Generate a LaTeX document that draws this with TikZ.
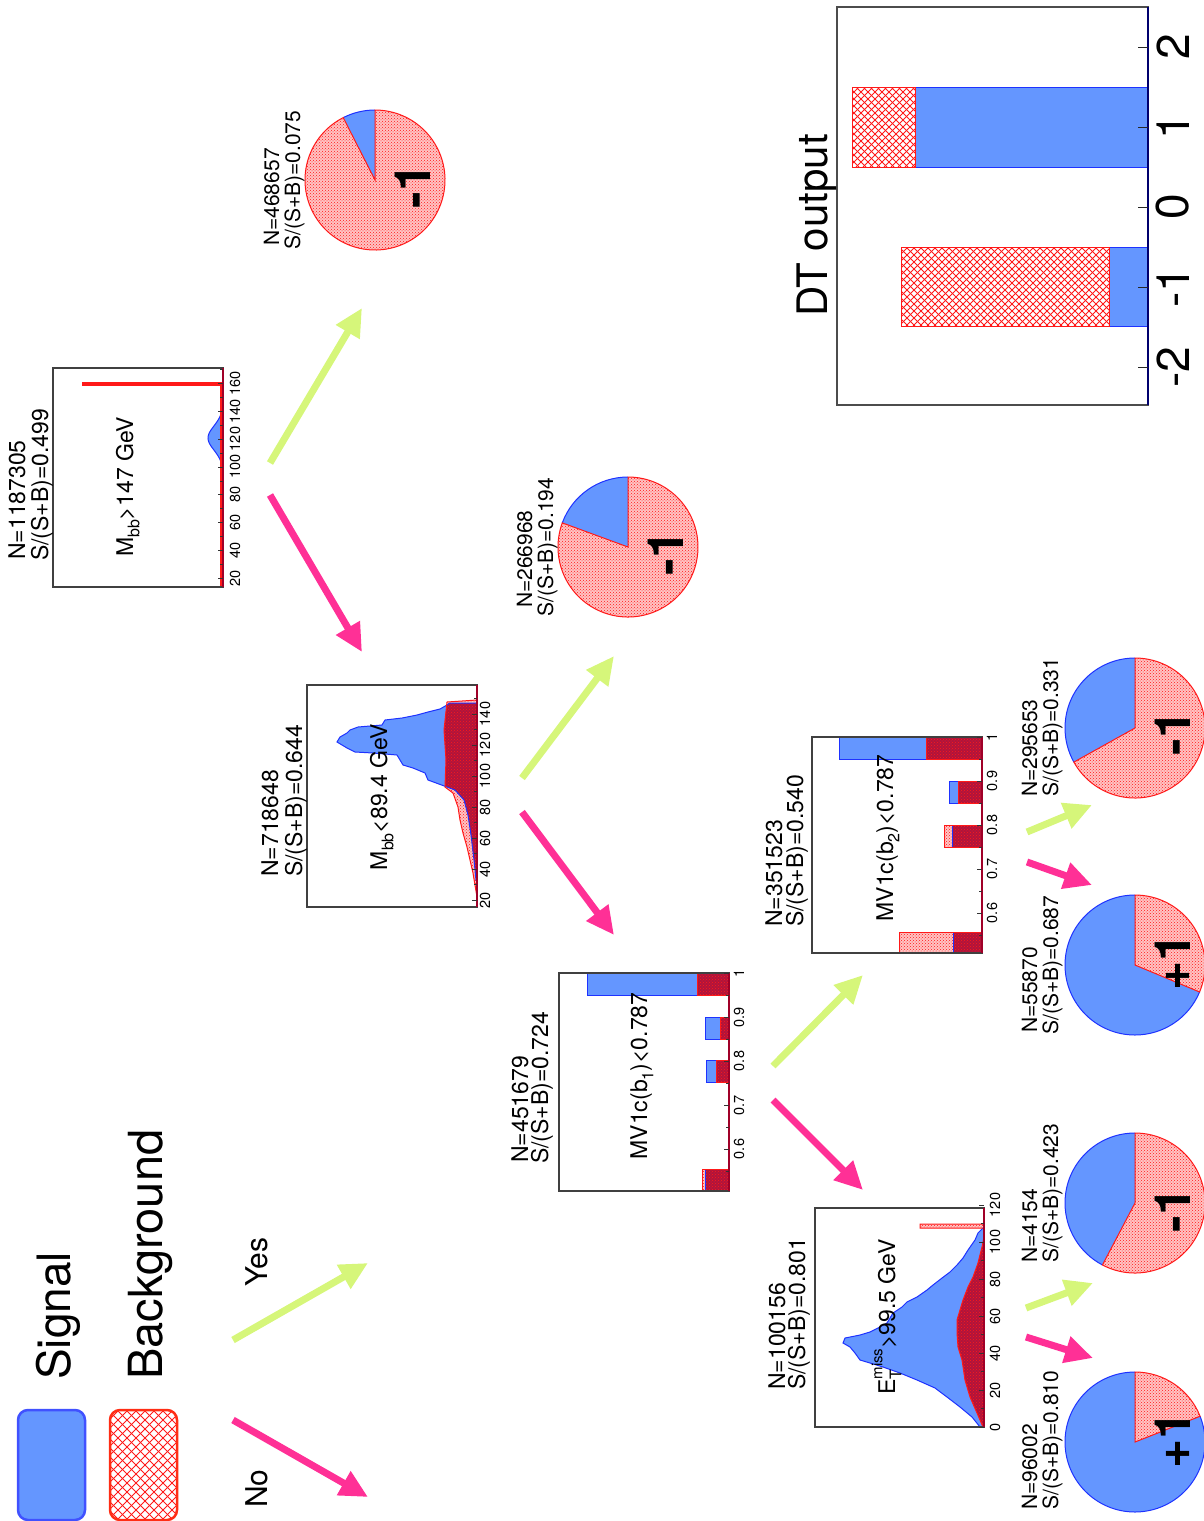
\documentclass[tikz,border=0pt]{standalone}
\usepackage{fontspec}
\setmainfont{TeX Gyre Heros}
\usetikzlibrary{arrows.meta,patterns,calc}

\definecolor{sigblue}{RGB}{100,150,255}
\definecolor{sigline}{RGB}{30,50,255}
\definecolor{bkgred}{RGB}{255,25,25}
\definecolor{bkgpink}{RGB}{255,195,195}
\definecolor{bkgdeep}{RGB}{175,20,60}
\definecolor{legred}{RGB}{255,45,20}
\definecolor{yesgreen}{RGB}{214,246,122}
\definecolor{nopink}{RGB}{255,48,150}
\definecolor{axisred}{RGB}{160,0,40}
\definecolor{axisnavy}{RGB}{0,0,110}

\newcommand\fsz[1]{\fontsize{#1}{#1}\selectfont}
\newcommand\lowtxt[1]{\raisebox{-0.28em}{\fsz{16}#1}}
\newcommand\hightxt[1]{\raisebox{0.55em}{\fsz{15}#1}}

\tikzset{
  sigfill/.style={fill=sigblue},
  sigedge/.style={draw=sigline, line width=1pt},
  bkglight/.style={preaction={fill=bkgpink}, pattern=crosshatch dots, pattern color=bkgred},
  bkgdark/.style={preaction={fill=bkgdeep}, pattern=crosshatch dots, pattern color=bkgred},
  bkgedge/.style={draw=bkgred, line width=1pt},
  hatchline/.style={draw=bkgred, line width=0.9pt},
  frame/.style={draw=black!75, line width=1.2pt},
  yesarrow/.style={draw=yesgreen, line width=7pt, -{Triangle[length=28pt,width=26pt]}},
  noarrow/.style={draw=nopink, line width=7pt, -{Triangle[length=28pt,width=26pt]}},
  rot/.style={rotate=90, inner sep=0pt},
  stat/.style={rot, anchor=base west, font=\fsz{23}},
  piestat/.style={rot, anchor=base west, font=\fsz{21}},
  cut/.style={rot, anchor=base, font=\fsz{23}},
  ticklbl/.style={rot, anchor=center, font=\fsz{14.5}},
  score/.style={rot, anchor=center, font=\bfseries\fsz{50}},
}

% signal histogram #1 with background histogram #2 laid over it
\newcommand\overlayhist[2]{%
  \fill[sigfill] #1;
  \path[bkglight] #2;
  \begin{scope}\clip #1; \path[bkgdark] #2; \end{scope}
  \draw[sigedge] #1;
  \draw[bkgedge] #2;
}

% diagonal cross hatching over the box x0,y0,x1,y1 with spacing #5
\newcommand\xhatch[5]{%
  \pgfmathsetmacro\hhgt{#4-#2}%
  \pgfmathsetmacro\hbeg{#1-\hhgt}%
  \pgfmathsetmacro\hnext{\hbeg+#5}%
  \foreach \k in {\hbeg,\hnext,...,#3}{%
    \draw[hatchline] (\k,#2) -- ++(\hhgt,\hhgt);
    \draw[hatchline] (\k,#4) -- ++(\hhgt,-\hhgt);
  }}
\newcommand\hatchbox[5]{%
  \fill[white] (#1,#2) rectangle (#3,#4);
  \begin{scope}\clip (#1,#2) rectangle (#3,#4); \xhatch{#1}{#2}{#3}{#4}{#5}\end{scope}
  \draw[bkgedge] (#1,#2) rectangle (#3,#4);}

% pie of signal fraction #2 around coordinate #1
\newcommand\dtpie[2]{%
  \fill[sigfill] (#1) -- ++(90:70pt) arc[start angle=90, delta angle={360*#2}, radius=70pt] -- cycle;
  \path[bkglight] (#1) -- ++({90+360*#2}:70pt) arc[start angle={90+360*#2}, end angle=450, radius=70pt] -- cycle;
  \draw[sigedge] (#1) ++(90:70pt) arc[start angle=90, delta angle={360*#2}, radius=70pt];
  \draw[bkgedge] (#1) -- ++({90+360*#2}:70pt) arc[start angle={90+360*#2}, end angle=450, radius=70pt] -- cycle;
}

\begin{document}
\begin{tikzpicture}[x=1pt,y=-1pt]
\useasboundingbox (0,0) rectangle (1203,1521);

% ---------- legend ----------
\draw[sigfill, draw=sigline!85, line width=2.5pt, rounded corners=10pt] (18,1410) rectangle (85,1520);
\begin{scope}
  \clip[rounded corners=10pt] (110,1410) rectangle (177,1520);
  \xhatch{110}{1410}{177}{1520}{9}
\end{scope}
\draw[draw=legred, line width=2.5pt, rounded corners=10pt] (110,1410) rectangle (177,1520);
\node[rot, anchor=base west, font=\fsz{46}] (sigtxt) at (70,1380) {Signal};
\node[rot, anchor=base west, font=\fsz{47}] (bkgtxt) at (162,1380) {Background};
\node[rot, anchor=base west, font=\fsz{30}] (yestxt) at (267,1287) {Yes};
\node[rot, anchor=base west, font=\fsz{30}] (notxt) at (267,1508) {No};
\coordinate (ly0) at (233,1340); \coordinate (ly1) at (368,1263);
\coordinate (ln0) at (233,1420); \coordinate (ln1) at (368,1497);
\draw[yesarrow] (ly0) -- (ly1);
\draw[noarrow] (ln0) -- (ln1);

% ---------- root: M_bb > 147 GeV ----------
\fill[sigfill] plot[domain=398:482, samples=43] ({223-15*exp(-((\x-438)/17)^2)}, \x) -- cycle;
\draw[sigedge] plot[domain=398:482, samples=43] ({223-15*exp(-((\x-438)/17)^2)}, \x);
\draw[bkgred, line width=4pt] (82,384) -- (223,384);
\draw[bkgred, line width=2.5pt] (221,384) -- (221,587);
\draw[frame] (53,368) rectangle (223,587);
\draw[axisred, line width=1.5pt] (223,368) -- (223,587);
\foreach \v in {20,40,...,160}{
  \draw[black!80] (223,{578-(\v-20)*1.39}) -- ++(-5,0);
  \draw[black!80] (223,{578-(\v-10)*1.39}) -- ++(-3,0);
  \node[ticklbl] (rt\v) at (235,{578-(\v-20)*1.39}) {\v};
}
\node[stat] (rootn) at (25,560) {N=1187305};
\node[stat] (roots) at (48,561) {S/(S+B)=0.499};
\node[cut] (rootcut) at (133,487) {M\lowtxt{bb}>147 GeV};

% ---------- M_bb < 89.4 GeV ----------
\overlayhist{(477,882) -- (476,880) -- (474,860) -- (471,835) -- (468,815) -- (464,800) -- (455,790) -- (447,787) -- (428,780) -- (425,773) -- (413,768) -- (403,765) -- (397,755) -- (373,753) -- (355,752) -- (347,748) -- (342,745) -- (337,742) -- (340,737) -- (347,733) -- (350,730) -- (358,727) -- (382,725) -- (385,720) -- (402,718) -- (417,715) -- (428,712) -- (440,709) -- (447,705) -- (450,703) -- (477,703) -- cycle}
  {(477,897) -- (473,873) -- (470,860) -- (467,847) -- (463,833) -- (460,820) -- (458,807) -- (453,793) -- (445,787) -- (446,760) -- (444,730) -- (447,702) -- (477,700) -- cycle}
\draw[frame] (307,685) rectangle (477,907);
\draw[axisred, line width=1.5pt] (477,685) -- (477,907);
\foreach \v in {20,40,...,140}{
  \draw[black!80] (477,{900-(\v-20)*1.55}) -- ++(-5,0);
  \draw[black!80] (477,{900-(\v-10)*1.55}) -- ++(-3,0);
  \node[ticklbl] (bt\v) at (485,{900-(\v-20)*1.55}) {\v};
}
\node[stat] (mbbn) at (278,877) {N=718648};
\node[stat] (mbbs) at (302,877) {S/(S+B)=0.644};
\node[cut] (mbbcut) at (387,797) {M\lowtxt{bb}<89.4 GeV};

% ---------- MV1c(b1) < 0.787 ----------
\overlayhist{(587,973) rectangle (729,995) (705,1017) rectangle (729,1039) (706,1060) rectangle (729,1082) (705,1169) rectangle (729,1191)}
  {(697,973) rectangle (729,995) (720,1017) rectangle (729,1039) (716,1060) rectangle (729,1082) (702,1169) rectangle (729,1191)}
\draw[frame] (559,973) rectangle (729,1191);
\draw[axisred, line width=1.5pt] (729,973) -- (729,1191);
\foreach \v/\t [count=\i] in {0.6/0.6,0.7/0.7,0.8/0.8,0.9/0.9,1/1}{
  \draw[black!80] (729,{973+(1-\v)*440}) -- ++(-5,0);
  \node[ticklbl] (mva\i) at (739,{973+(1-\v)*440}) {\t};
}
\foreach \v in {0.55,0.65,0.75,0.85,0.95}{\draw[black!80] (729,{973+(1-\v)*440}) -- ++(-3,0);}
\node[stat] (mvan) at (528,1163) {N=451679};
\node[stat] (mvas) at (548,1164) {S/(S+B)=0.724};
\node[cut] (mvacut) at (647,1076) {MV1c(b\lowtxt{1})<0.787};

% ---------- MV1c(b2) < 0.787 ----------
\overlayhist{(839,737) rectangle (982,759) (949,781) rectangle (982,803) (952,825) rectangle (982,847) (953,932) rectangle (982,953)}
  {(926,737) rectangle (982,759) (958,781) rectangle (982,803) (944,825) rectangle (982,847) (899,932) rectangle (982,953)}
\draw[frame] (812,737) rectangle (982,953);
\draw[axisred, line width=1.5pt] (982,737) -- (982,953);
\foreach \v/\t [count=\i] in {0.6/0.6,0.7/0.7,0.8/0.8,0.9/0.9,1/1}{
  \draw[black!80] (982,{737+(1-\v)*440}) -- ++(-5,0);
  \node[ticklbl] (mvb\i) at (992,{737+(1-\v)*440}) {\t};
}
\foreach \v in {0.55,0.65,0.75,0.85,0.95}{\draw[black!80] (982,{737+(1-\v)*440}) -- ++(-3,0);}
\node[stat] (mvbn) at (782,927) {N=351523};
\node[stat] (mvbs) at (803,927) {S/(S+B)=0.540};
\node[cut] (mvbcut) at (893,838) {MV1c(b\lowtxt{2})<0.787};

% ---------- missing E_T > 99.5 GeV ----------
\overlayhist{(984,1427) -- (980,1427) -- (972,1417) -- (960,1407) -- (947,1397) -- (935,1388) -- (917,1380) -- (900,1373) -- (883,1367) -- (870,1363) -- (860,1360) -- (855,1353) -- (850,1347) -- (843,1343) -- (845,1338) -- (860,1335) -- (870,1332) -- (878,1328) -- (887,1323) -- (893,1313) -- (902,1307) -- (907,1302) -- (917,1297) -- (927,1290) -- (933,1285) -- (942,1278) -- (950,1272) -- (957,1265) -- (963,1258) -- (968,1250) -- (975,1240) -- (978,1233) -- (983,1228) -- (984,1228) -- cycle}
  {(984,1427) -- (983,1427) -- (977,1413) -- (970,1397) -- (965,1380) -- (962,1360) -- (958,1347) -- (957,1333) -- (957,1320) -- (960,1310) -- (963,1300) -- (968,1287) -- (973,1277) -- (978,1263) -- (982,1247) -- (984,1237) -- cycle (920,1224) rectangle (984,1228)}
\draw[frame] (815,1208) rectangle (984,1427);
\draw[axisred, line width=1.5pt] (984,1208) -- (984,1427);
\foreach \v in {0,20,...,120}{
  \draw[black!80] (984,{1427-1.85*\v}) -- ++(-5,0);
  \node[ticklbl] (et\v) at (995,{1427-1.85*\v}) {\v};
}
\foreach \v in {10,30,...,110}{\draw[black!80] (984,{1427-1.85*\v}) -- ++(-3,0);}
\node[stat] (etn) at (785,1390) {N=100156};
\node[stat] (ets) at (805,1390) {S/(S+B)=0.801};
\node[cut] (etcut) at (895,1317) {E\lowtxt{\rlap{T}}\hightxt{miss}>99.5 GeV};

% ---------- leaves ----------
\coordinate (pa) at (375,180);
\coordinate (pb) at (628,547);
\coordinate (pc) at (1135,965);
\coordinate (pd) at (1135,728);
\coordinate (pe) at (1135,1442);
\coordinate (pf) at (1135,1203);
\dtpie{pa}{0.075}
\dtpie{pb}{0.194}
\dtpie{pc}{0.687}
\dtpie{pd}{0.331}
\dtpie{pe}{0.810}
\dtpie{pf}{0.423}
\node[score] (sa) at (413,186) {-1};
\node[score] (sb) at (666,553) {-1};
\node[score] (sc) at (1173,962) {+1};
\node[score] (sd) at (1173,733) {-1};
\node[score] (se) at (1173,1440) {+1};
\node[score] (sf) at (1173,1210) {-1};
\node[piestat] (pan) at (279,246) {N=468657};
\node[piestat] (pas) at (300,250) {S/(S+B)=0.075};
\node[piestat] (pbn) at (532,608) {N=266968};
\node[piestat] (pbs) at (553,617) {S/(S+B)=0.194};
\node[piestat] (pcn) at (1037,1033) {N=55870};
\node[piestat] (pcs) at (1058,1035) {S/(S+B)=0.687};
\node[piestat] (pdn) at (1037,797) {N=295653};
\node[piestat] (pds) at (1058,797) {S/(S+B)=0.331};
\node[piestat] (pen) at (1037,1510) {N=96002};
\node[piestat] (pes) at (1058,1510) {S/(S+B)=0.810};
\node[piestat] (pfn) at (1037,1263) {N=4154};
\node[piestat] (pfs) at (1058,1263) {S/(S+B)=0.423};

% ---------- decision arrows ----------
\coordinate (ay0) at (270,463);   \coordinate (ay1) at (362,308);
\coordinate (an0) at (270,495);   \coordinate (an1) at (362,652);
\coordinate (by0) at (522,778);   \coordinate (by1) at (614,656);
\coordinate (bn0) at (522,812);   \coordinate (bn1) at (614,935);
\coordinate (cy0) at (773,1066);  \coordinate (cy1) at (863,975);
\coordinate (cn0) at (773,1100);  \coordinate (cn1) at (863,1190);
\coordinate (dy0) at (1027,832);  \coordinate (dy1) at (1092,805);
\coordinate (dn0) at (1027,862);  \coordinate (dn1) at (1092,885);
\coordinate (ey0) at (1026,1308); \coordinate (ey1) at (1093,1283);
\coordinate (en0) at (1026,1337); \coordinate (en1) at (1093,1358);
\foreach \b in {a,b,c,d,e}{
  \draw[yesarrow] (\b y0) -- (\b y1);
  \draw[noarrow] (\b n0) -- (\b n1);
}

% ---------- DT output panel ----------
\fill[sigfill] (915,87) rectangle (1148,167);
\draw[sigedge] (915,87) rectangle (1148,167);
\hatchbox{852}{87}{915}{167}{7}
\fill[sigfill] (1109,247) rectangle (1148,326);
\draw[sigedge] (1109,247) rectangle (1148,326);
\hatchbox{901}{247}{1109}{326}{7}
\draw[draw=black!70, line width=1.2pt] (837,7) rectangle (1148,405);
\draw[axisnavy, line width=2pt] (1148,7) -- (1148,405);
\foreach \v [count=\i] in {-2,-1,0,1,2}{
  \draw[black!85, line width=1pt] (1148,{207-80*\v}) -- ++(-10,0);
  \node[rot, anchor=center, font=\fsz{46}] (dt\i) at (1173,{207-80*\v}) {\v};
}
\node[rot, anchor=base west, font=\fsz{42}] (dttitle) at (827,317) {DT output};

\end{tikzpicture}
\end{document}
